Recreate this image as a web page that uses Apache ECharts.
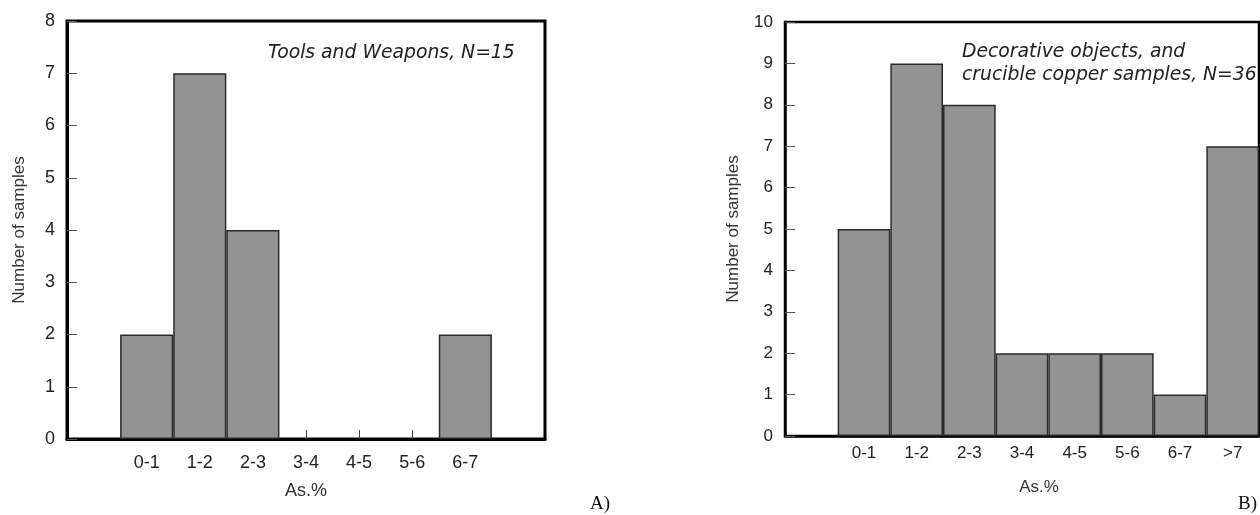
<!DOCTYPE html>
<html>
<head>
<meta charset="utf-8">
<title>Arsenic content histograms</title>
<script src="https://cdn.jsdelivr.net/npm/echarts@6/dist/echarts.min.js"></script>
<style>
  html, body { margin: 0; padding: 0; background: #fff; }
  #chart { width: 1260px; height: 515px; }
</style>
</head>
<body>
<div id="chart"></div>
<script>
// Arsenic (As.%) bins and sample counts for the two groups
const binsA = ['0-1', '1-2', '2-3', '3-4', '4-5', '5-6', '6-7'];
const countsA = [2, 7, 4, 0, 0, 0, 2];
const binsB = ['0-1', '1-2', '2-3', '3-4', '4-5', '5-6', '6-7', '>7'];
const countsB = [5, 9, 8, 2, 2, 2, 1, 7];
const yTicksA = { min: 0, max: 8, step: 1 };
const yTicksB = { min: 0, max: 10, step: 1 };

// An empty slot before the first bin (and after the last bin in A) leaves
// the gap between the axis and the bars.
const catsA = [''].concat(binsA, [' ']);
const catsB = [''].concat(binsB);

// Empty bins get no outline so the axis ticks stay visible.
function barData(counts) {
  return [null].concat(counts.map(v => v === 0 ? { value: v, itemStyle: { borderWidth: 0 } } : v));
}
const valsA = barData(countsA).concat([null]);
const valsB = barData(countsB);

const SANS = '"Liberation Sans", Arial, sans-serif';
const ITALIC = '"DejaVu Sans", Verdana, sans-serif';
const SERIF = '"Liberation Serif", "Times New Roman", serif';

function xAxis(gridIndex, cats, fontSize, labelMargin, namePad) {
  return {
    type: 'category', gridIndex, data: cats,
    axisLine: { lineStyle: { color: '#000', width: gridIndex === 0 ? 3 : 2.5 } },
    axisTick: {
      show: true, inside: true, length: 9, alignWithLabel: true,
      interval: (i, v) => String(v).trim() !== '',
      lineStyle: { color: '#444', width: 1 }
    },
    axisLabel: { color: '#222', fontSize, fontFamily: SANS, margin: labelMargin, interval: 0 },
    name: 'As.%', nameLocation: 'middle', nameGap: 43,
    nameTextStyle: { color: '#333', fontSize, fontFamily: SANS, padding: namePad },
    splitLine: { show: false }
  };
}

function yAxis(gridIndex, t, fontSize, nameGap) {
  return {
    type: 'value', gridIndex, min: t.min, max: t.max, interval: t.step,
    axisLine: { show: true, lineStyle: { color: '#000', width: gridIndex === 0 ? 3 : 2.5 } },
    axisTick: { show: true, inside: true, length: 10, lineStyle: { color: '#555', width: 1 } },
    axisLabel: { color: '#222', fontSize, fontFamily: SANS, margin: 12 },
    splitLine: { show: false },
    name: 'Number of samples', nameLocation: 'middle', nameRotate: 90, nameGap,
    nameTextStyle: { color: '#333', fontSize: 17, fontFamily: SANS }
  };
}

const barStyle = { color: '#939393', borderColor: '#2a2a2a', borderWidth: 1.5 };

const chart = echarts.init(document.getElementById('chart'), null, { renderer: 'canvas' });
chart.setOption({
  animation: false,
  backgroundColor: '#fff',
  grid: [
    { left: 67, right: 715, top: 21, bottom: 76, show: true, borderColor: '#000', borderWidth: 3, backgroundColor: 'transparent' },
    { left: 785, right: 1, top: 22, bottom: 79, show: true, borderColor: '#000', borderWidth: 2.5, backgroundColor: 'transparent' }
  ],
  xAxis: [
    xAxis(0, catsA, 18, 15, [0, 0, 0, 0]),
    xAxis(1, catsB, 17, 9, [0, 0, 0, 34])
  ],
  yAxis: [
    yAxis(0, yTicksA, 18, 39),
    yAxis(1, yTicksB, 17, 43)
  ],
  series: [
    { type: 'bar', xAxisIndex: 0, yAxisIndex: 0, data: valsA, barCategoryGap: '0%', itemStyle: barStyle, z: 3 },
    { type: 'bar', xAxisIndex: 1, yAxisIndex: 1, data: valsB, barCategoryGap: '0%', itemStyle: barStyle, z: 3 }
  ],
  graphic: [
    { type: 'text', left: 268, top: 44,
      style: { text: 'Tools and Weapons, N=15', font: 'italic 18.8px ' + ITALIC, fill: '#222' } },
    { type: 'text', left: 962, top: 41,
      style: { text: 'Decorative objects, and\ncrucible copper samples, N=36', font: 'italic 18.8px ' + ITALIC, fill: '#222', lineHeight: 23 } },
    { type: 'text', left: 590, top: 495,
      style: { text: 'A)', font: '19px ' + SERIF, fill: '#111' } },
    { type: 'text', left: 1238, top: 495,
      style: { text: 'B)', font: '19px ' + SERIF, fill: '#111' } }
  ]
});
</script>
</body>
</html>
